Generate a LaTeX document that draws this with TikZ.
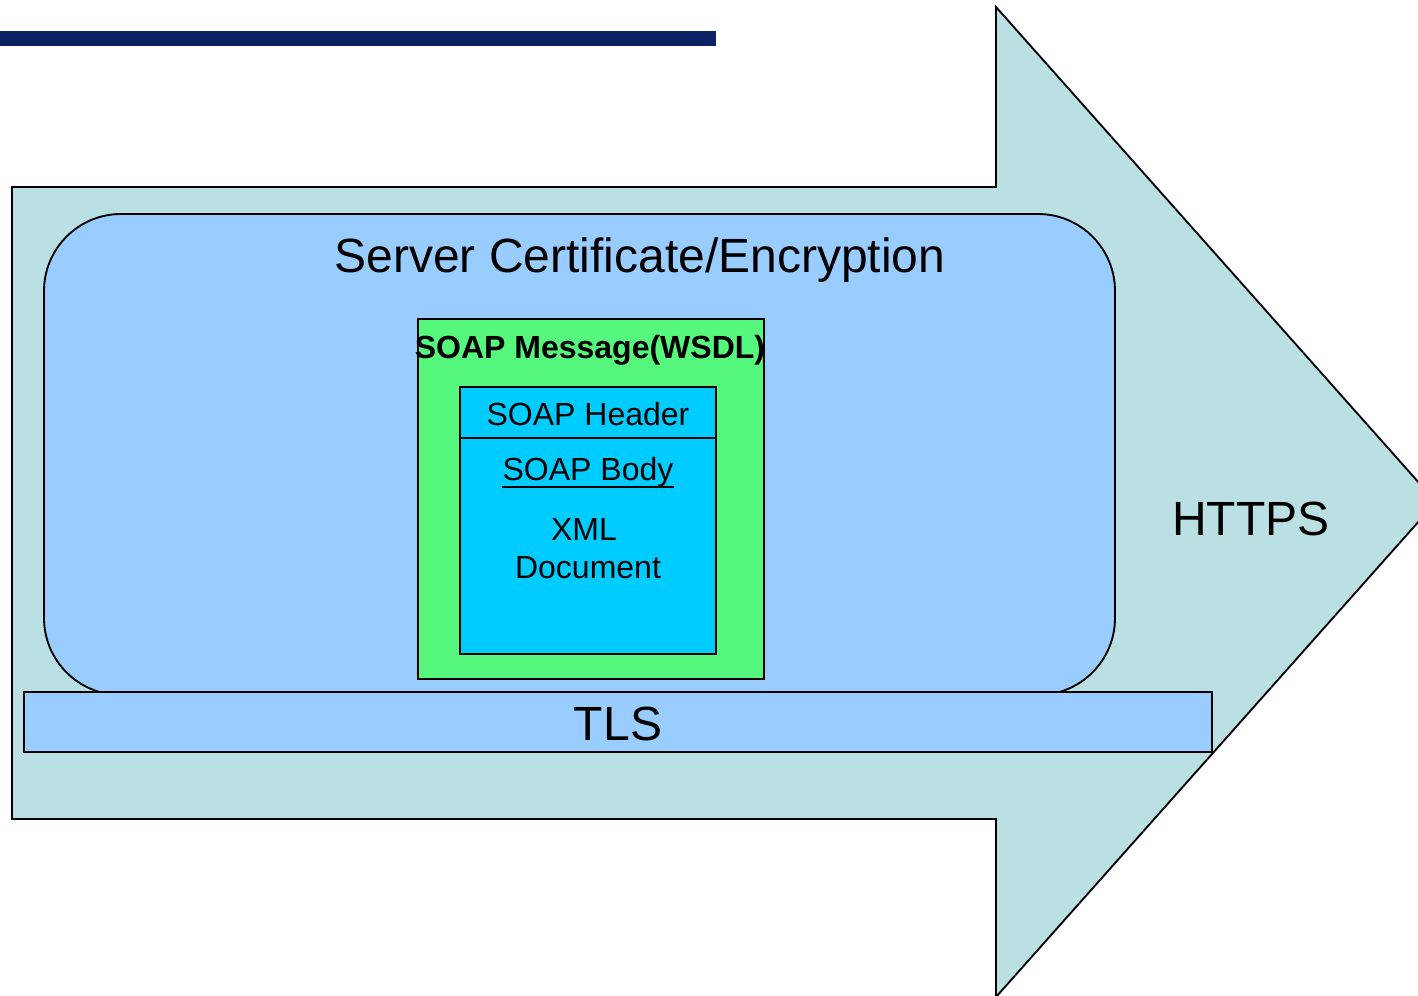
\documentclass[tikz,border=0pt]{standalone}
\usepackage{fontspec}
\setmainfont{Liberation Sans}
\definecolor{arrowfill}{HTML}{BBE0E3}
\definecolor{certfill}{HTML}{99CCFF}
\definecolor{msgfill}{HTML}{55F77D}
\definecolor{soapfill}{HTML}{00CCFF}
\definecolor{navybar}{HTML}{0B2164}
\tikzset{
  outline/.style={draw=black, line width=1.4pt, line join=miter},
  bigtext/.style={anchor=base, inner sep=0pt, font=\fontsize{36}{40}\selectfont},
  midtext/.style={anchor=base, inner sep=0pt, font=\fontsize{24}{28}\selectfont},
}
\begin{document}
\begin{tikzpicture}[x=0.75pt, y=-0.75pt]
\useasboundingbox (0,0) rectangle (1418,996);
\clip (0,0) rectangle (1418,996);
% title bar
\fill[navybar] (0,31) rectangle (716,46);
% HTTPS arrow
\draw[outline, fill=arrowfill] (12,187) -- (996,187) -- (996,7) -- (1436,502) -- (996,997) -- (996,819) -- (12,819) -- cycle;
% rounded certificate box
\draw[outline, fill=certfill, rounded corners=57.75pt] (44,214) rectangle (1115,695);
% TLS bar
\draw[outline, fill=certfill] (24,692) rectangle (1212,752);
% SOAP message box
\draw[outline, fill=msgfill] (418,319) rectangle (764,679);
\draw[outline, fill=soapfill] (460,387) rectangle (716,654);
\draw[outline] (460,438) -- (716,438);
% texts
\node[bigtext] (cert) at (640,272) {Server Certificate/Encryption};
\node[bigtext] (https) at (1251,535) {HTTPS};
\node[bigtext] (tls) at (618,740) {TLS};
\node[midtext, font=\fontsize{24}{28}\selectfont\bfseries] (msg) at (590,358) {SOAP Message(WSDL)};
\node[midtext] (header) at (588,425) {SOAP Header};
\node[midtext] (body) at (588,480) {SOAP Body};
\draw[line width=1.5pt] ([yshift=-5pt]body.base west) -- ([yshift=-5pt]body.base east);
\node[midtext] (xml) at (584,540) {XML};
\node[midtext] (doc) at (588,578) {Document};
\end{tikzpicture}
\end{document}
